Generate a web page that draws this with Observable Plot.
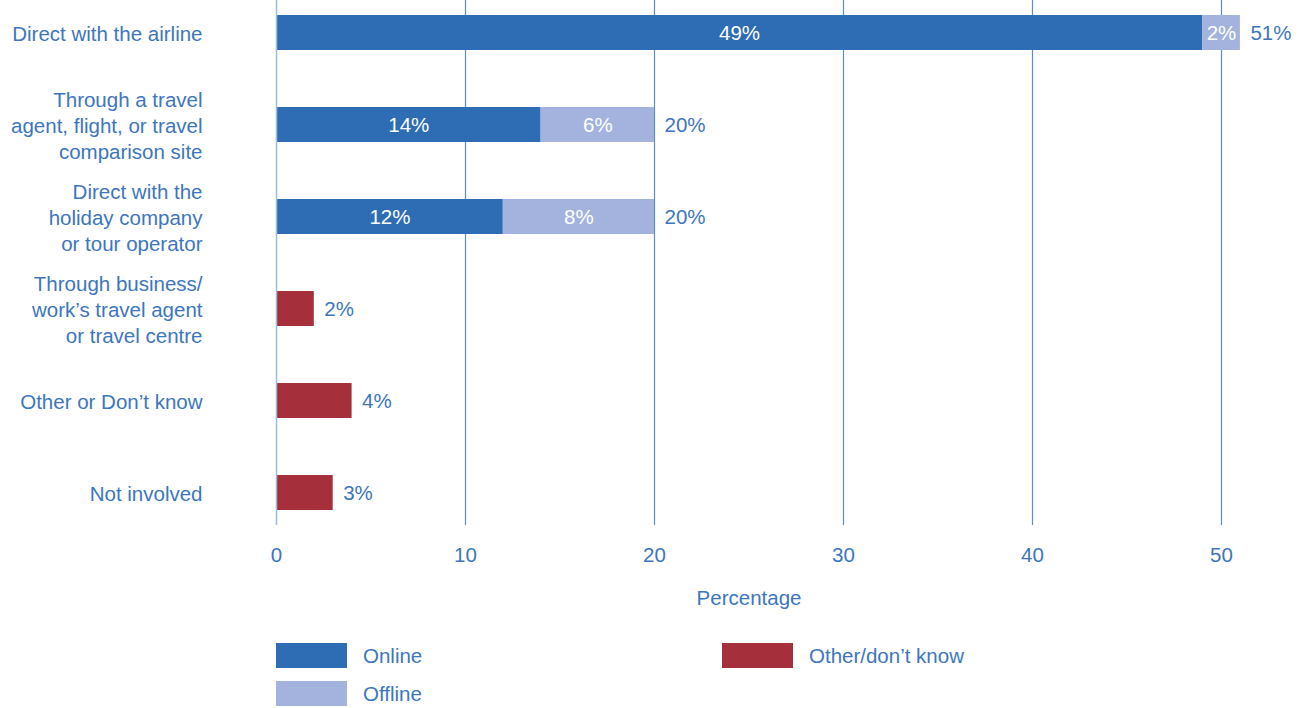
<!DOCTYPE html>
<html>
<head>
<meta charset="utf-8">
<script src="https://cdn.jsdelivr.net/npm/d3@7"></script>
<script src="https://cdn.jsdelivr.net/npm/@observablehq/plot@0.6"></script>
<style>
  html, body { margin: 0; padding: 0; background: #fff; }
  body { font-family: "Liberation Sans", Arial, sans-serif; color: #3d76bd; }
  #wrap { position: relative; width: 1301px; height: 708px; }
  #legend {
    position: absolute; top: 643px; left: 276px;
    display: grid; grid-auto-flow: column;
    grid-template-rows: 25px 25px; grid-template-columns: 446px auto;
    row-gap: 13px; font-size: 20.5px;
  }
  .item { display: flex; align-items: center; }
  .sw { width: 71px; height: 25px; margin-right: 16px; }
</style>
</head>
<body>
<div id="wrap">
  <div id="chart"></div>
  <div id="legend"></div>
</div>
<script>
const categories = [
  "Direct with the airline",
  "Through a travel agent, flight, or travel comparison site",
  "Direct with the holiday company or tour operator",
  "Through business/ work’s travel agent or travel centre",
  "Other or Don’t know",
  "Not involved"
];
const categoryLabels = [
  "Direct with the airline",
  "Through a travel\nagent, flight, or travel\ncomparison site",
  "Direct with the\nholiday company\nor tour operator",
  "Through business/\nwork’s travel agent\nor travel centre",
  "Other or Don’t know",
  "Not involved"
];
const series = ["Online", "Offline", "Other/don’t know"];
const online  = [49, 14, 12, 0, 0, 0];
const offline = [2, 6, 8, 0, 0, 0];
const other   = [0, 0, 0, 2, 4, 3];
const xTicks = [0, 10, 20, 30, 40, 50];
const colors = ["#2e6db4", "#a3b3dd", "#a5303b"];

const seriesValues = [online, offline, other];
const data = [];
categories.forEach((c, i) => {
  series.forEach((s, j) => {
    const v = seriesValues[j][i];
    if (v > 0) data.push({category: c, series: s, value: v});
  });
});
const totals = categories.map((c, i) => ({
  category: c,
  total: online[i] + offline[i] + other[i]
}));
const inside = data.filter(d => d.series !== "Other/don’t know");
const labelOf = new Map(categories.map((c, i) => [c, categoryLabels[i]]));

const blue = "#3d76bd";
const fs = 20.5;
const chart = Plot.plot({
  width: 1301,
  height: 625,
  marginLeft: 276,
  marginRight: 80,
  marginTop: 0,
  marginBottom: 100,
  style: {fontFamily: "'Liberation Sans', Arial, sans-serif", color: blue, background: "#fff"},
  x: {domain: [0, 50], ticks: xTicks, label: "Percentage"},
  y: {domain: categories, paddingInner: 0.62, paddingOuter: 0.163, label: null},
  color: {domain: series, range: colors},
  marks: [
    Plot.ruleX(xTicks.filter(t => t > 0), {stroke: "#5b8dc8", strokeWidth: 1.2}),
    Plot.barX(data, Plot.stackX({x: "value", y: "category", fill: "series", order: series})),
    Plot.ruleX([0], {stroke: "#9dbbe0", strokeWidth: 1.5}),
    Plot.text(inside, Plot.stackX({
      x: "value", y: "category", order: series, z: "series",
      text: d => d.value + "%", fill: "white", fontSize: fs
    })),
    Plot.text(totals, {
      x: "total", y: "category", text: d => d.total + "%",
      textAnchor: "start", dx: 10, fill: blue, fontSize: fs
    }),
    Plot.axisY({
      tickSize: 0, tickPadding: 74, fontSize: fs, lineHeight: 1.27,
      tickFormat: d => labelOf.get(d), label: null, color: blue
    }),
    Plot.axisX({
      ticks: xTicks, tickSize: 0, tickPadding: 22, fontSize: fs, color: blue,
      label: "Percentage", labelAnchor: "center", labelArrow: "none", labelOffset: 79
    })
  ]
});
document.getElementById("chart").appendChild(chart);

const legend = document.getElementById("legend");
series.forEach((s, i) => {
  const item = document.createElement("div");
  item.className = "item";
  const sw = document.createElement("div");
  sw.className = "sw";
  sw.style.background = colors[i];
  const t = document.createElement("span");
  t.textContent = s;
  item.appendChild(sw);
  item.appendChild(t);
  legend.appendChild(item);
});
</script>
</body>
</html>
